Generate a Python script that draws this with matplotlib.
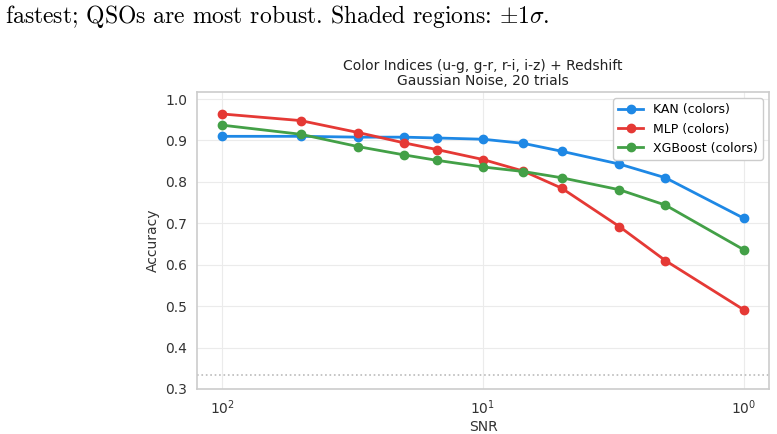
import matplotlib
matplotlib.use("Agg")
import matplotlib.pyplot as plt

# Datos
snr = [100, 50, 30, 20, 15, 10, 7, 5, 3, 2, 1]
kan_acc = [0.910, 0.910, 0.908, 0.908, 0.906, 0.903, 0.893, 0.874, 0.843, 0.810, 0.712]
mlp_acc = [0.964, 0.948, 0.919, 0.894, 0.878, 0.854, 0.826, 0.785, 0.692, 0.610, 0.491]
xgb_acc = [0.937, 0.915, 0.885, 0.865, 0.852, 0.836, 0.825, 0.810, 0.781, 0.744, 0.636]
chance = 1 / 3

plt.rcParams['mathtext.fontset'] = 'cm'

fig = plt.figure(figsize=(7.77, 4.34), dpi=100)
ax = fig.add_axes([197 / 777, 1 - 389 / 434, 572 / 777, 297 / 434])

# Texto del pie de la pagina (recortado arriba)
fig.text(5 / 777, 1 - 16 / 434,
         r'fastest; QSOs are most robust. Shaded regions: $\pm1\sigma$.',
         family='cmr10', fontsize=17, va='center', ha='left')

ax.plot(snr, kan_acc, '-o', color='#1E88E5', lw=2, ms=6, label='KAN (colors)')
ax.plot(snr, mlp_acc, '-o', color='#E53935', lw=2, ms=6, label='MLP (colors)')
ax.plot(snr, xgb_acc, '-o', color='#43A047', lw=2, ms=6, label='XGBoost (colors)')
ax.axhline(chance, color='#bbbbbb', ls=':', lw=1.2)

ax.set_xscale('log')
ax.set_xlim(10 ** 2.096, 10 ** -0.096)
ax.set_ylim(0.3, 1.017)
ax.set_yticks([0.3, 0.4, 0.5, 0.6, 0.7, 0.8, 0.9, 1.0])
ax.minorticks_off()

ax.grid(True, color='#ebebeb', lw=0.8)
ax.set_axisbelow(True)
for s in ax.spines.values():
    s.set_color('#cccccc')
    s.set_linewidth(1.2)
ax.tick_params(length=0, labelsize=10, colors='#333333', pad=7)

ax.set_xlabel('SNR', fontsize=10, color='#333333', labelpad=2)
ax.set_ylabel('Accuracy', fontsize=10, color='#333333')
ax.set_title('Color Indices (u-g, g-r, r-i, i-z) + Redshift\nGaussian Noise, 20 trials',
             fontsize=10, color='#222222', pad=5, linespacing=1.1)

leg = ax.legend(loc='upper right', fontsize=9, frameon=True, framealpha=1,
                handlelength=2.0, borderaxespad=0.5)
leg.get_frame().set_edgecolor('#cccccc')

fig.savefig('out.png', dpi=100)
